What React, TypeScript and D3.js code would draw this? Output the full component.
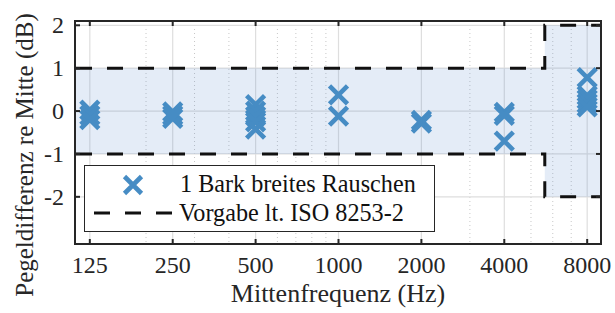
import React from 'react';
import * as d3 from 'd3';

// Mittenfrequenzen (Hz) and the measured level differences (dB) per band
const bandFreqs = [125, 250, 500, 1000, 2000, 4000, 8000];
const levelDiffs = [
  [0.02, -0.1, -0.2],
  [-0.02, -0.1, -0.17],
  [0.15, 0.0, -0.12, -0.25, -0.42],
  [0.38, -0.12],
  [-0.22, -0.28],
  [-0.03, -0.1, -0.7],
  [0.78, 0.36, 0.27, 0.18, 0.1],
];

// ISO 8253-2 tolerance corridor
const limitFreqs = [111.36, 5612, 5612, 8979.7];
const limitUpper = [1, 1, 2, 2];
const limitLower = [-1, -1, -2, -2];

const xTicks = [125, 250, 500, 1000, 2000, 4000, 8000];
const yTicks = [-2, -1, 0, 1, 2];
const minorFreqs = [200, 300, 400, 600, 700, 800, 900, 3000, 5000, 6000, 7000];

const W = 615;
const H = 313;
const plot = { left: 76, right: 601, top: 21, bottom: 244 };

const BLUE = '#468cc4';
const FONT = '"Liberation Serif", "Times New Roman", serif';

export default function App() {
  const x = d3.scaleLog().domain([111.36, 8979.7]).range([plot.left, plot.right]);
  const y = d3.scaleLinear().domain([-3.1, 2.1]).range([plot.bottom, plot.top]);

  const pts = bandFreqs.flatMap((f, i) => levelDiffs[i].map((v) => ({ f, v })));

  const band = d3
    .area<number>()
    .x((_, i) => x(limitFreqs[i]))
    .y0((_, i) => y(limitLower[i]))
    .y1((_, i) => y(limitUpper[i]));
  const limitLine = d3
    .line<number>()
    .x((_, i) => x(limitFreqs[i]))
    .y((d) => y(d));

  const xMark = (s: number) => `M${-s},${-s}L${s},${s}M${-s},${s}L${s},${-s}`;
  const tick = 5;
  const axisLeft = plot.left - 1;

  return (
    <svg
      width={W}
      height={H}
      style={{ position: 'absolute', left: 0, top: 0, background: '#fff' }}
      fontFamily={FONT}
    >
      {/* grid */}
      <g>
        {minorFreqs.map((f) => (
          <line key={'m' + f} x1={x(f)} x2={x(f)} y1={plot.top} y2={plot.bottom}
            stroke="#c8c8c8" strokeWidth={1} strokeDasharray="1 3" />
        ))}
        {xTicks.map((f) => (
          <line key={'g' + f} x1={x(f)} x2={x(f)} y1={plot.top} y2={plot.bottom}
            stroke="#dedede" strokeWidth={1.2} />
        ))}
        {yTicks.map((v) => (
          <line key={'h' + v} x1={axisLeft} x2={plot.right} y1={y(v)} y2={y(v)}
            stroke="#dedede" strokeWidth={1.2} />
        ))}
      </g>

      {/* tolerance band */}
      <path d={band(limitUpper) || ''} fill="rgb(77,128,204)" fillOpacity={0.15} />
      <path d={limitLine(limitUpper) || ''} fill="none" stroke="#111" strokeWidth={3} strokeDasharray="16 15" />
      <path d={limitLine(limitLower) || ''} fill="none" stroke="#111" strokeWidth={3} strokeDasharray="16 15" />

      {/* data */}
      {pts.map((p, i) => (
        <path key={i} d={xMark(9)} transform={`translate(${x(p.f)},${y(p.v)})`}
          stroke={BLUE} strokeWidth={4.6} fill="none" />
      ))}

      {/* axes box + ticks */}
      <rect x={axisLeft} y={plot.top} width={plot.right - axisLeft} height={plot.bottom - plot.top}
        fill="none" stroke="#262626" strokeWidth={2} />
      {xTicks.map((f) => (
        <g key={'t' + f}>
          <line x1={x(f)} x2={x(f)} y1={plot.bottom} y2={plot.bottom - tick} stroke="#262626" strokeWidth={2} />
          <line x1={x(f)} x2={x(f)} y1={plot.top} y2={plot.top + tick} stroke="#262626" strokeWidth={2} />
          <text x={x(f)} y={273} textAnchor="middle" fontSize={24} fill="#262626">{f}</text>
        </g>
      ))}
      {yTicks.map((v) => (
        <g key={'yt' + v}>
          <line x1={axisLeft} x2={axisLeft + tick} y1={y(v)} y2={y(v)} stroke="#262626" strokeWidth={2} />
          <line x1={plot.right} x2={plot.right - tick} y1={y(v)} y2={y(v)} stroke="#262626" strokeWidth={2} />
          <text x={64} y={y(v) + 8} textAnchor="end" fontSize={24} fill="#262626">{v}</text>
        </g>
      ))}

      {/* axis labels */}
      <text x={338} y={302} textAnchor="middle" fontSize={26} fill="#262626">
        Mittenfrequenz (Hz)
      </text>
      <text transform="translate(33,155) rotate(-90)" textAnchor="middle" fontSize={25} fill="#262626">
        Pegeldifferenz re Mitte (dB)
      </text>

      {/* legend */}
      <g>
        <rect x={84.5} y={165.5} width={350} height={66} fill="#fff" stroke="#262626" strokeWidth={1} />
        <path d={xMark(8.5)} transform="translate(133,185)" stroke={BLUE} strokeWidth={4.6} fill="none" />
        <line x1={94} x2={172} y1={213} y2={213} stroke="#111" strokeWidth={3} strokeDasharray="16 15" />
        <text x={180} y={192} fontSize={24.2} fill="#111">1 Bark breites Rauschen</text>
        <text x={179} y={221} fontSize={24.2} fill="#111">Vorgabe lt. ISO 8253-2</text>
      </g>
    </svg>
  );
}
